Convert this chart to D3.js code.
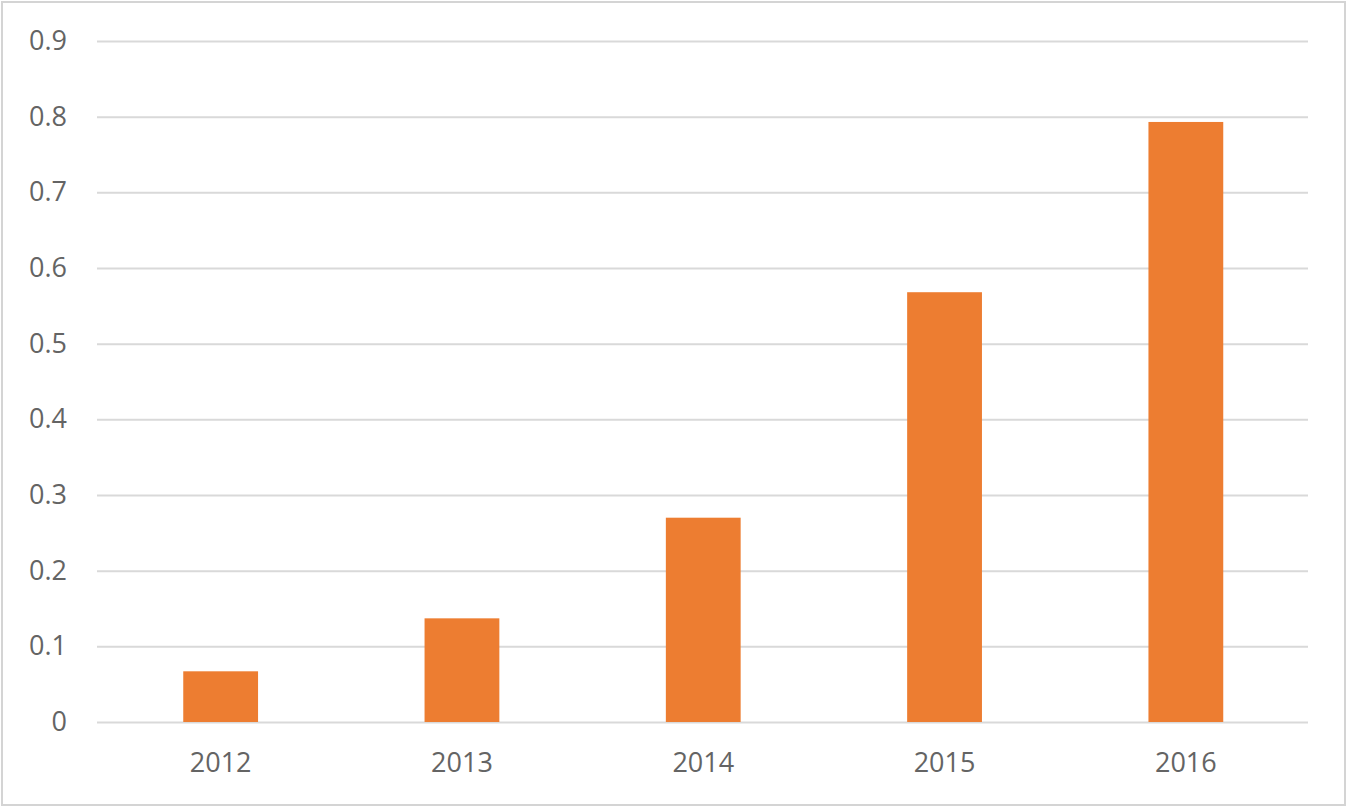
<!DOCTYPE html>
<html>
<head>
<meta charset="utf-8">
<script src="https://cdn.jsdelivr.net/npm/d3@7"></script>
<style>
  html, body { margin: 0; padding: 0; background: #fff; }
  svg { display: block; }
  .tick text { font-family: "Open Sans", "Liberation Sans", sans-serif; fill: #646464; }
</style>
</head>
<body>
<div id="chart"></div>
<script>
// chart data
var years = ['2012', '2013', '2014', '2015', '2016'];
var values = [0.067, 0.137, 0.27, 0.568, 0.793];
var yTicks = [0, 0.1, 0.2, 0.3, 0.4, 0.5, 0.6, 0.7, 0.8, 0.9];

var W = 1347, H = 808;
var m = { top: 41, right: 39, bottom: 86, left: 97 };
var width = W - m.left - m.right;
var height = H - m.top - m.bottom;

var svg = d3.select('#chart').append('svg')
  .attr('width', W)
  .attr('height', H);

// outer frame
svg.append('rect')
  .attr('x', 2).attr('y', 2)
  .attr('width', W - 4).attr('height', H - 5)
  .attr('fill', '#fff')
  .attr('stroke', '#d4d4d4')
  .attr('stroke-width', 2);

var chart = svg.append('g')
  .attr('transform', 'translate(' + m.left + ',' + m.top + ')');

var x = d3.scaleBand()
  .domain(years)
  .range([3, width - 1.5])
  .paddingInner(0.69)
  .paddingOuter(0.345);

var y = d3.scaleLinear()
  .domain([0, 0.9])
  .range([height, 0]);

// gridlines + y labels
var yAxis = chart.append('g')
  .call(d3.axisLeft(y)
    .tickValues(yTicks)
    .tickFormat(function(d) { return d === 0 ? '0' : d3.format('.1f')(d); })
    .tickSize(-width)
    .tickPadding(30));
yAxis.select('.domain').remove();
yAxis.selectAll('.tick line')
  .attr('stroke', '#d9d9d9')
  .attr('stroke-width', 2);
yAxis.selectAll('.tick text')
  .attr('font-size', 27);

// bars
chart.selectAll('.bar')
  .data(values)
  .enter()
  .append('rect')
  .attr('class', 'bar')
  .attr('x', function(d, i) { return x(years[i]); })
  .attr('y', function(d) { return y(d); })
  .attr('width', x.bandwidth())
  .attr('height', function(d) { return height - y(d); })
  .attr('fill', '#ed7d31');

// x labels
var xAxis = chart.append('g')
  .attr('transform', 'translate(0,' + height + ')')
  .call(d3.axisBottom(x).tickSize(0).tickPadding(31));
xAxis.select('.domain').remove();
xAxis.selectAll('.tick text')
  .attr('font-size', 27);
</script>
</body>
</html>
